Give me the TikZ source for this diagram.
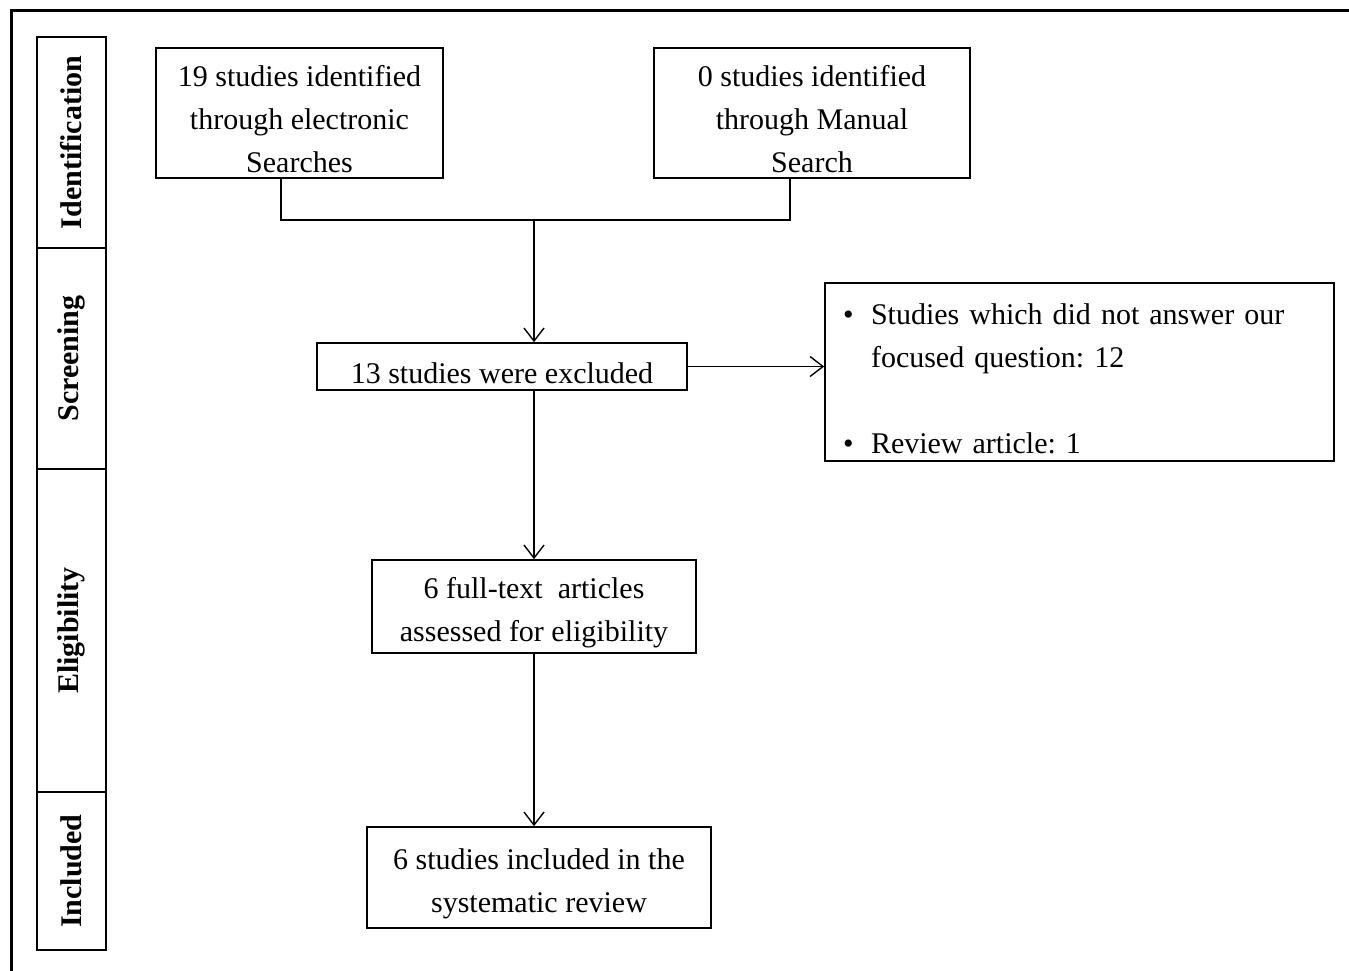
\documentclass[tikz,border=0pt]{standalone}
\usepackage{fontspec}
\setmainfont{Liberation Serif}
\usetikzlibrary{shapes.geometric, arrows, arrows.meta, positioning}

\newcommand{\lift}{\rule{0pt}{34pt}}

\begin{document}
\begin{tikzpicture}[x=1pt, y=1pt, node distance=240pt]

\tikzstyle{box} = [rectangle, draw=black, line width=1.6pt, align=center, inner sep=0pt, font=\fontsize{30}{43}\selectfont]
\tikzstyle{stage} = [rectangle, draw=black, line width=2pt, outer sep=0pt, minimum width=69pt, inner sep=0pt, font=\fontsize{30}{36}\selectfont\bfseries]
\tikzstyle{arrow} = [-{Straight Barb[length=13pt,width=20pt]}, line width=1.4pt]
\tikzstyle{link} = [line width=1.6pt]

\useasboundingbox (0,0) rectangle (1349,-971);
\draw[line width=3pt] (11,-971) -- (11,-11) -- (1349,-11);

% stages
\node[stage, minimum height=211pt] (ident) at (71.5,-142.5) {\rotatebox{90}{Identification}};
\node[stage, minimum height=221pt, below=0pt of ident] (screen) {\rotatebox{90}{Screening}};
\node[stage, minimum height=323pt, below=0pt of screen] (elig) {\rotatebox{90}{Eligibility}};
\node[stage, minimum height=158pt, below=0pt of elig] (inc) {\rotatebox{90}{Included}};

% boxes
\node[box, minimum width=287pt, minimum height=130pt] (elec) at (299.5,-113) {\lift 19 studies identified\\through electronic\\Searches};
\node[box, minimum width=316pt, minimum height=130pt] (manual) at (812,-113) {\lift 0 studies identified\\through Manual\\Search};
\node[box, minimum width=370pt, minimum height=47pt] (excl) at (502,-366.5) {\lift 13 studies were excluded};
\node[box, minimum width=324pt, minimum height=93pt, below of=excl, xshift=32pt] (full) {\lift 6 full-text\ \ articles\\assessed for eligibility};
\node[box, minimum width=344pt, minimum height=101pt, below of=full, node distance=271pt, xshift=5pt] (incl) {\lift 6 studies included in the\\systematic review};
\node[box, minimum width=509pt, minimum height=178pt, text width=473pt, align=left] (reasons) at (1079.5,-372)
  {\lift\makebox[28pt][l]{\textbullet}Studies which did not answer our\\
   \hspace*{28pt}focused question:\ 12\\[43pt]
   \makebox[28pt][l]{\textbullet}Review\ article:\ 1};

% connectors
\coordinate (join) at (534,-220);
\draw[link] ([xshift=-18.5pt]elec.south) |- (join) -| ([xshift=-22pt]manual.south);
\draw[arrow] (join) -- (excl.north -| join);
\draw[arrow] (excl.east) -- (reasons.west |- excl.east);
\draw[arrow] (excl.south -| join) -- (full.north -| join);
\draw[arrow] (full.south -| join) -- (incl.north -| join);

\end{tikzpicture}
\end{document}
